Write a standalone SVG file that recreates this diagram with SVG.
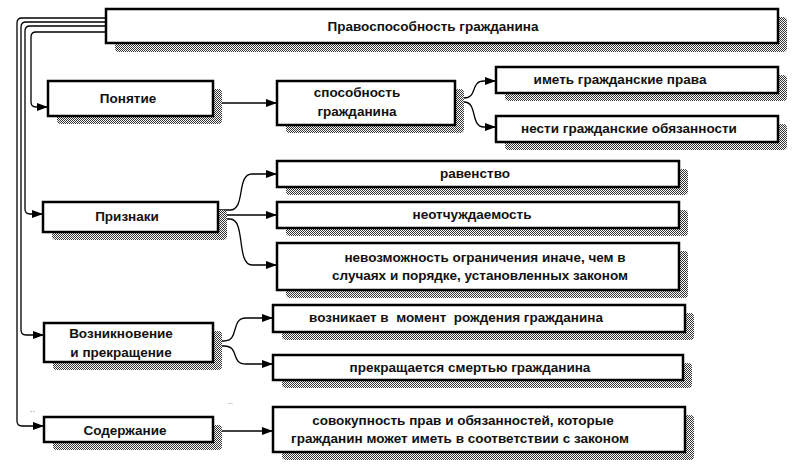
<svg xmlns="http://www.w3.org/2000/svg" width="800" height="474" viewBox="0 0 800 474">
<defs>
<pattern id="chk" width="2" height="2" patternUnits="userSpaceOnUse">
<rect width="2" height="2" fill="#fff"/>
<rect width="1" height="1" fill="#333"/>
<rect x="1" y="1" width="1" height="1" fill="#333"/>
</pattern>
<marker id="arr" markerUnits="userSpaceOnUse" markerWidth="12" markerHeight="10" refX="11" refY="5" orient="auto">
<path d="M0,1 L11,5 L0,9 Z" fill="#000"/>
</marker>
<style>
.box{fill:#fff;stroke:#000;stroke-width:2.5}
.sh{fill:url(#chk)}
.t{font-family:"Liberation Sans",Arial,sans-serif;font-weight:bold;font-size:13.5px;fill:#111;text-anchor:middle;white-space:pre}
.c{fill:none;stroke:#000;stroke-width:1.3;marker-end:url(#arr)}
.dots{font-family:"Liberation Sans",Arial,sans-serif;font-size:9px;fill:#888}
</style>
</defs>
<rect width="800" height="474" fill="#fff"/>

<g id="connectors">
<path class="c" d="M106,32 H36 Q31,32 31,37 V102 Q31,107 36,107 H48"/>
<path class="c" d="M106,26 H30 Q25,26 25,31 V209 Q25,214 30,214 H43"/>
<path class="c" d="M106,22 H26 Q21,22 21,27 V330 Q21,335 26,335 H44"/>
<path class="c" d="M106,18 H22 Q17,18 17,23 V421 Q17,426 22,426 H44"/>
<path class="c" d="M213,103 H277"/>
<path class="c" d="M455,98 H464 C478,98 470,81 484,81 H496"/>
<path class="c" d="M455,102 H464 C478,102 470,127 484,127 H496"/>
<path class="c" d="M218,210 H230 C246,210 236,174 252,174 H277"/>
<path class="c" d="M218,215 H277"/>
<path class="c" d="M218,219 H230 C246,219 236,265 252,265 H277"/>
<path class="c" d="M213,341 H224 C240,341 230,318 246,318 H273"/>
<path class="c" d="M213,346 H224 C240,346 230,364 246,364 H273"/>
<path class="c" d="M213,431 H273"/>
</g>

<g id="title">
<rect class="sh" x="115" y="17" width="672" height="35" rx="4"/>
<rect class="box" x="106" y="9" width="672" height="34"/>
<text class="t" x="433" y="31">Правоспособность гражданина</text>
</g>

<g id="ponyatie">
<rect class="sh" x="57" y="89" width="165" height="35" rx="4"/>
<rect class="box" x="48" y="81" width="165" height="35"/>
<text class="t" x="128" y="103">Понятие</text>
</g>

<g id="sposobnost">
<rect class="sh" x="286" y="89" width="178" height="44" rx="4"/>
<rect class="box" x="277" y="81" width="178" height="44"/>
<text class="t" x="357" y="97">способность</text>
<text class="t" x="357" y="116">гражданина</text>
</g>

<g id="imet">
<rect class="sh" x="505" y="75" width="282" height="26" rx="4"/>
<rect class="box" x="496" y="67" width="282" height="26"/>
<text class="t" x="620" y="84">иметь гражданские права</text>
</g>

<g id="nesti">
<rect class="sh" x="505" y="124" width="282" height="26" rx="4"/>
<rect class="box" x="496" y="116" width="282" height="26"/>
<text class="t" x="629" y="133">нести гражданские обязанности</text>
</g>

<g id="priznaki">
<rect class="sh" x="52" y="210" width="175" height="30" rx="4"/>
<rect class="box" x="43" y="202" width="175" height="30"/>
<text class="t" x="127" y="221">Признаки</text>
</g>

<g id="ravenstvo">
<rect class="sh" x="286" y="169" width="402" height="26" rx="4"/>
<rect class="box" x="277" y="161" width="402" height="26"/>
<text class="t" x="475" y="178">равенство</text>
</g>

<g id="neotchuzhdaemost">
<rect class="sh" x="286" y="210" width="402" height="26" rx="4"/>
<rect class="box" x="277" y="202" width="402" height="26"/>
<text class="t" x="472" y="219">неотчуждаемость</text>
</g>

<g id="nevozmozhnost">
<rect class="sh" x="286" y="251" width="402" height="47" rx="4"/>
<rect class="box" x="277" y="243" width="402" height="47"/>
<text class="t" x="485" y="262">невозможность ограничения иначе, чем в</text>
<text class="t" x="480" y="280">случаях и порядке, установленных законом</text>
</g>

<g id="vozniknovenie">
<rect class="sh" x="53" y="331" width="169" height="39" rx="4"/>
<rect class="box" x="44" y="323" width="169" height="39"/>
<text class="t" x="121" y="338">Возникновение</text>
<text class="t" x="121" y="357">и прекращение</text>
</g>

<g id="voznikaet">
<rect class="sh" x="282" y="313" width="412" height="27" rx="4"/>
<rect class="box" x="273" y="305" width="412" height="27"/>
<text class="t" x="456" y="322" xml:space="preserve">возникает в  момент  рождения гражданина</text>
</g>

<g id="prekrashchaetsya">
<rect class="sh" x="282" y="363" width="410" height="25" rx="4"/>
<rect class="box" x="273" y="355" width="410" height="25"/>
<text class="t" x="470" y="372">прекращается смертью гражданина</text>
</g>

<g id="soderzhanie">
<rect class="sh" x="53" y="425" width="169" height="25" rx="4"/>
<rect class="box" x="44" y="417" width="169" height="25"/>
<text class="t" x="125" y="435">Содержание</text>
</g>

<g id="sovokupnost">
<rect class="sh" x="282" y="415" width="412" height="45" rx="4"/>
<rect class="box" x="273" y="407" width="412" height="45"/>
<text class="t" x="463" y="425">совокупность прав и обязанностей, которые</text>
<text class="t" x="460" y="443">гражданин может иметь в соответствии с законом</text>
</g>

<text class="dots" x="30" y="412">..</text>
<text class="dots" x="228" y="404">..</text>
</svg>
